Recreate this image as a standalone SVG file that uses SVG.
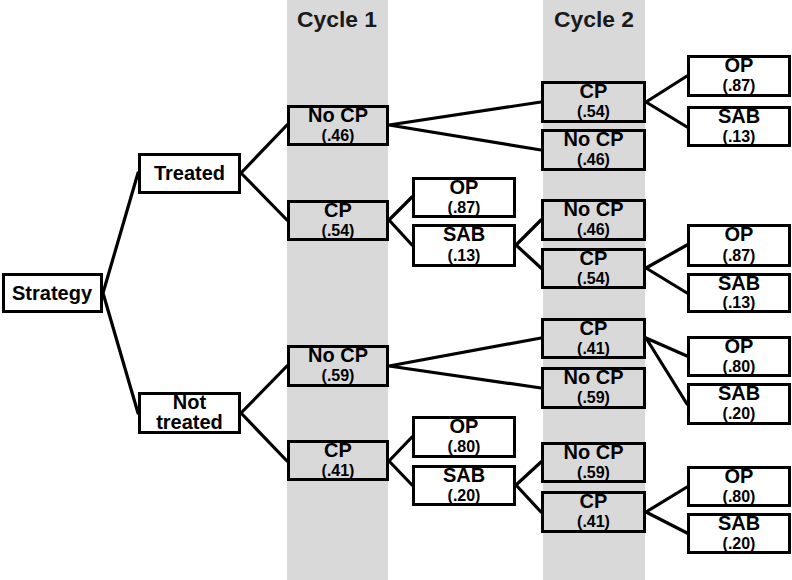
<svg xmlns="http://www.w3.org/2000/svg" width="792" height="580" viewBox="0 0 792 580">
<style>
.col{fill:#d9d9d9}
.b{fill:#fff;stroke:#000;stroke-width:3}
.g{fill:#d9d9d9;stroke:#000;stroke-width:3}
text{font-family:"Liberation Sans",Arial,sans-serif;font-weight:bold;fill:#000;text-anchor:middle}
.t1{font-size:20px}
.t2{font-size:16px}
.h{font-size:22px;fill:#1a1a1a}
.c{fill:none;stroke:#000;stroke-width:3.2;stroke-linecap:round}
</style>
<rect class="col" x="287" y="0" width="101" height="580"/>
<rect class="col" x="543" y="0" width="102" height="580"/>
<text class="h" x="337" y="27" textLength="80" lengthAdjust="spacingAndGlyphs">Cycle 1</text>
<text class="h" x="594" y="27" textLength="80" lengthAdjust="spacingAndGlyphs">Cycle 2</text>
<g id="connectors">
<path class="c" d="M103,293 L138,173 M103,293 L138,413"/>
<path class="c" d="M241,173 L287,125 M241,173 L287,220"/>
<path class="c" d="M241,413 L287,366 M241,413 L287,461"/>
<path class="c" d="M389,125 L541,102 M389,125 L541,150"/>
<path class="c" d="M389,220 L412,197 M389,220 L412,245"/>
<path class="c" d="M516,245 L541,220 M516,245 L541,268"/>
<path class="c" d="M646,102 L687,76 M646,102 L687,127"/>
<path class="c" d="M646,268 L687,245 M646,268 L687,293"/>
<path class="c" d="M389,366 L541,338 M389,366 L541,388"/>
<path class="c" d="M646,338 L687,356 M646,338 L687,404"/>
<path class="c" d="M389,461 L412,437 M389,461 L412,485"/>
<path class="c" d="M516,485 L541,462 M516,485 L541,512"/>
<path class="c" d="M646,512 L687,487 M646,512 L687,533"/>
</g>
<g id="strategy"><rect class="b" x="3.5" y="274.5" width="98" height="37"/><text class="t1" x="52" y="300">Strategy</text></g>
<g id="treated"><rect class="b" x="139.5" y="154.5" width="100" height="38"/><text class="t1" x="189.5" y="180">Treated</text></g>
<g id="not-treated"><rect class="b" x="139.5" y="393.5" width="100" height="39"/><text class="t1" x="189.5" y="409">Not</text><text class="t1" x="189.5" y="429">treated</text></g>

<g id="c1-nocp-t"><rect class="g" x="288.5" y="106.5" width="99" height="38"/><text class="t1" x="338" y="122">No CP</text><text class="t2" x="338" y="141">(.46)</text></g>
<g id="c1-cp-t"><rect class="g" x="288.5" y="201.5" width="99" height="38"/><text class="t1" x="338" y="217">CP</text><text class="t2" x="338" y="236">(.54)</text></g>
<g id="c1-nocp-n"><rect class="g" x="288.5" y="346.5" width="99" height="39"/><text class="t1" x="338" y="362">No CP</text><text class="t2" x="338" y="381">(.59)</text></g>
<g id="c1-cp-n"><rect class="g" x="288.5" y="441.5" width="99" height="38"/><text class="t1" x="338" y="457">CP</text><text class="t2" x="338" y="476">(.41)</text></g>

<g id="m-op-t"><rect class="b" x="413.5" y="178.5" width="101" height="38"/><text class="t1" x="464" y="194">OP</text><text class="t2" x="464" y="213">(.87)</text></g>
<g id="m-sab-t"><rect class="b" x="413.5" y="225.5" width="101" height="40"/><text class="t1" x="464" y="241">SAB</text><text class="t2" x="464" y="261">(.13)</text></g>
<g id="m-op-n"><rect class="b" x="413.5" y="417.5" width="101" height="39"/><text class="t1" x="464" y="433">OP</text><text class="t2" x="464" y="452">(.80)</text></g>
<g id="m-sab-n"><rect class="b" x="413.5" y="466.5" width="101" height="38"/><text class="t1" x="464" y="482">SAB</text><text class="t2" x="464" y="501">(.20)</text></g>

<g id="c2-cp-t1"><rect class="g" x="542.5" y="82.5" width="102" height="39"/><text class="t1" x="593.5" y="98">CP</text><text class="t2" x="593.5" y="117">(.54)</text></g>
<g id="c2-nocp-t1"><rect class="g" x="542.5" y="130.5" width="102" height="39"/><text class="t1" x="593.5" y="146">No CP</text><text class="t2" x="593.5" y="165">(.46)</text></g>
<g id="c2-nocp-t2"><rect class="g" x="542.5" y="200.5" width="102" height="39"/><text class="t1" x="593.5" y="216">No CP</text><text class="t2" x="593.5" y="235">(.46)</text></g>
<g id="c2-cp-t2"><rect class="g" x="542.5" y="249.5" width="102" height="38"/><text class="t1" x="593.5" y="265">CP</text><text class="t2" x="593.5" y="284">(.54)</text></g>
<g id="c2-cp-n1"><rect class="g" x="542.5" y="319.5" width="102" height="38"/><text class="t1" x="593.5" y="335">CP</text><text class="t2" x="593.5" y="354">(.41)</text></g>
<g id="c2-nocp-n1"><rect class="g" x="542.5" y="368.5" width="102" height="39"/><text class="t1" x="593.5" y="384">No CP</text><text class="t2" x="593.5" y="403">(.59)</text></g>
<g id="c2-nocp-n2"><rect class="g" x="542.5" y="443.5" width="102" height="38"/><text class="t1" x="593.5" y="459">No CP</text><text class="t2" x="593.5" y="478">(.59)</text></g>
<g id="c2-cp-n2"><rect class="g" x="542.5" y="492.5" width="102" height="39"/><text class="t1" x="593.5" y="508">CP</text><text class="t2" x="593.5" y="527">(.41)</text></g>

<g id="r-op-t1"><rect class="b" x="688.5" y="56.5" width="101" height="39"/><text class="t1" x="739" y="72">OP</text><text class="t2" x="739" y="91">(.87)</text></g>
<g id="r-sab-t1"><rect class="b" x="688.5" y="107.5" width="101" height="38"/><text class="t1" x="739" y="123">SAB</text><text class="t2" x="739" y="142">(.13)</text></g>
<g id="r-op-t2"><rect class="b" x="688.5" y="225.5" width="101" height="40"/><text class="t1" x="739" y="241">OP</text><text class="t2" x="739" y="261">(.87)</text></g>
<g id="r-sab-t2"><rect class="b" x="688.5" y="274.5" width="101" height="37"/><text class="t1" x="739" y="290">SAB</text><text class="t2" x="739" y="308">(.13)</text></g>
<g id="r-op-n1"><rect class="b" x="688.5" y="337.5" width="101" height="38"/><text class="t1" x="739" y="353">OP</text><text class="t2" x="739" y="372">(.80)</text></g>
<g id="r-sab-n1"><rect class="b" x="688.5" y="384.5" width="101" height="39"/><text class="t1" x="739" y="400">SAB</text><text class="t2" x="739" y="419">(.20)</text></g>
<g id="r-op-n2"><rect class="b" x="688.5" y="467.5" width="101" height="38"/><text class="t1" x="739" y="483">OP</text><text class="t2" x="739" y="502">(.80)</text></g>
<g id="r-sab-n2"><rect class="b" x="688.5" y="514.5" width="101" height="38"/><text class="t1" x="739" y="530">SAB</text><text class="t2" x="739" y="549">(.20)</text></g>
</svg>
